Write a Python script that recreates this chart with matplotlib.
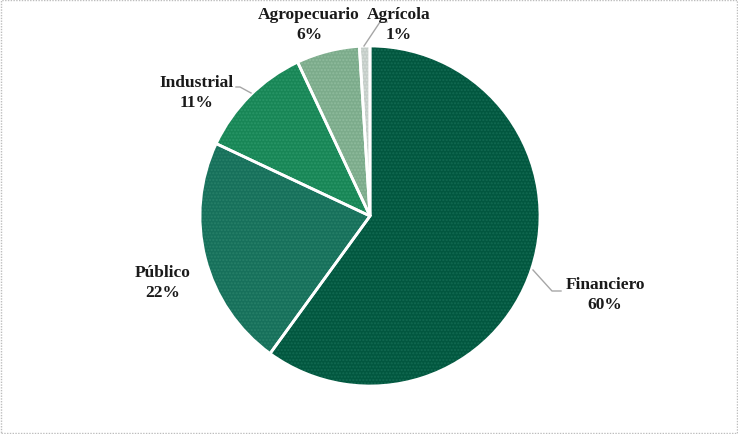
import matplotlib.pyplot as plt
from matplotlib.patches import Rectangle

# datos del gráfico
sectors = ['Financiero', 'Público', 'Industrial', 'Agropecuario', 'Agrícola']
shares = [60, 22, 11, 6, 1]
colors = ['#02573f', '#17705b', '#188656', '#7cab8b', '#c4cdc8']
dot_colors = ['#126a52', '#278069', '#2a9668', '#8fbb9d', '#d6ddd9']

# posiciones de las etiquetas (px) y puntos de las guías
label_pos = [(605, 295), (163, 283), (197, 93), (309, 25), (399, 25)]
leaders = [
    [(533, 271), (552, 292), (561, 292)],
    None,
    [(251, 94), (240, 88), (236, 88)],
    None,
    [(364, 47), (380, 23), (387, 23)],
]

W, H = 738, 435
fig = plt.figure(figsize=(W / 100, H / 100), dpi=100)
ax = fig.add_axes([0, 0, 1, 1])

cx, cy, r = 370, H - 217, 170

wedges, _ = ax.pie(shares, colors=colors, startangle=90, counterclock=False,
                   center=(cx, cy), radius=r, frame=True,
                   wedgeprops=dict(linewidth=0))
for w, dc in zip(wedges, dot_colors):
    w.set_hatch('.....')
    w.set_edgecolor(dc)
    w.set_linewidth(0)

# bordes blancos entre porciones
ax.pie(shares, colors=['none'] * len(shares), startangle=90, counterclock=False,
       center=(cx, cy), radius=r, frame=True,
       wedgeprops=dict(linewidth=2, edgecolor='white'))
ax.set_xlim(0, W)
ax.set_ylim(0, H)
ax.set_aspect('equal')
ax.axis('off')

for name, val, (lx, ly), pts in zip(sectors, shares, label_pos, leaders):
    ax.text(lx, H - ly, f'{name}\n{val}%', ha='center', va='center',
            fontsize=12.5, fontweight='bold', family='Liberation Serif',
            color='#1a1a1a', linespacing=1.3)
    if pts:
        ax.plot([p[0] for p in pts], [H - p[1] for p in pts],
                color='#a6a6a6', lw=1)

fig.patches.append(Rectangle((0.001, 0.002), 0.997, 0.996, transform=fig.transFigure,
                             fill=False, edgecolor='#bdbdbd', lw=1, ls=(0, (1, 1))))

fig.savefig('out.png', dpi=100)
